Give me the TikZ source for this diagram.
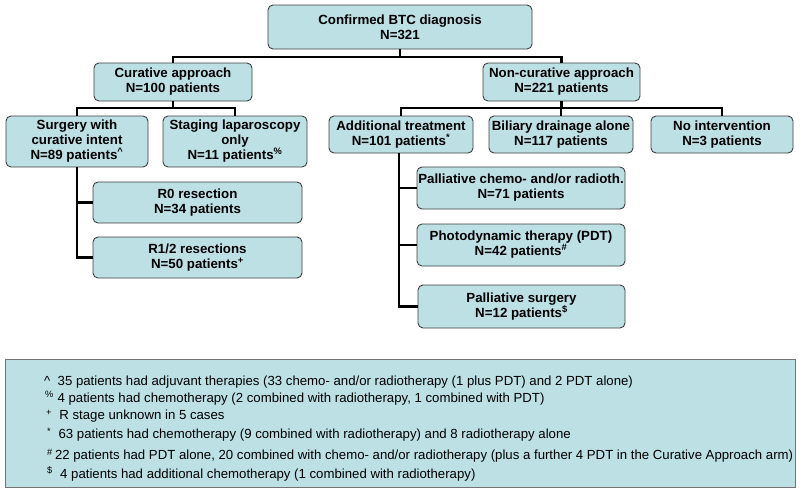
\documentclass[tikz,border=0pt]{standalone}
\usepackage{fontspec}
\setmainfont{Liberation Sans}
\begin{document}
\begin{tikzpicture}[x=1pt,y=-1pt,
  bx/.style={draw=black!75, line width=0.9pt, fill=boxfill, rounded corners=5pt,
    align=center, inner sep=0pt, font=\fontsize{13.3}{15}\selectfont\bfseries},
  conn/.style={draw=black, line width=2.8pt},
  fn/.style={anchor=west, inner sep=0pt, font=\fontsize{13.2}{15}\selectfont}]
\definecolor{boxfill}{RGB}{188,224,228}
\useasboundingbox (0,0) rectangle (800,493);
\fill[white] (0,0) rectangle (800,493);
% boxes
\node[bx, minimum width=264pt, minimum height=44pt] (top) at (400,27) {Confirmed BTC diagnosis\\N=321};
\node[bx, minimum width=158pt, minimum height=38pt] (cur) at (173,82) {Curative approach\\N=100 patients};
\node[bx, minimum width=157pt, minimum height=38pt] (non) at (561.5,82) {Non-curative approach\\N=221 patients};
\node[bx, minimum width=142pt, minimum height=51pt] (surg) at (77,141.5) {Surgery with\\curative intent\\N=89 patients\textsuperscript{\textasciicircum}};
\node[bx, minimum width=144pt, minimum height=51pt] (stag) at (235,141.5) {Staging laparoscopy\\only\\N=11 patients\textsuperscript{\%}};
\node[bx, minimum width=144pt, minimum height=37pt] (add) at (401,134.5) {Additional treatment\\N=101 patients\textsuperscript{*}};
\node[bx, minimum width=144pt, minimum height=37pt] (bil) at (561,134.5) {Biliary drainage alone\\N=117 patients};
\node[bx, minimum width=142pt, minimum height=37pt] (noint) at (722,134.5) {No intervention\\N=3 patients};
\node[bx, minimum width=209pt, minimum height=41pt] (r0) at (197.5,202.5) {R0 resection\\N=34 patients};
\node[bx, minimum width=209pt, minimum height=41pt] (r12) at (197.5,257.5) {R1/2 resections\\N=50 patients\textsuperscript{+}};
\node[bx, minimum width=208pt, minimum height=42pt] (pc) at (521,188) {Palliative chemo- and/or radioth.\\N=71 patients};
\node[bx, minimum width=208pt, minimum height=42pt] (pdt) at (521,245) {Photodynamic therapy (PDT)\\N=42 patients\textsuperscript{\#}};
\node[bx, minimum width=207pt, minimum height=43pt] (ps) at (521.5,306.5) {Palliative surgery\\N=12 patients\textsuperscript{\$}};
% connectors
\coordinate (j1) at (400,57);
\coordinate (j2) at (173,108);
\coordinate (j3) at (561.5,108);
\draw[conn] (top.south) -- (j1);
\draw[conn] (cur.north) |- (j1) -| (non.north);
\draw[conn] (cur.south) -- (j2);
\draw[conn] (surg.north) |- (j2) -| (stag.north);
\draw[conn] (non.south) -- (j3);
\draw[conn] (add.north) |- (j3) -| (noint.north);
\draw[conn] (bil.north) -- (bil.north |- j3);
\draw[conn] (surg.south) |- (r12.west);
\draw[conn] (surg.south |- r0.west) -- (r0.west);
\draw[conn] ([xshift=-2pt]add.south) |- (ps.west);
\draw[conn] ([xshift=-2pt]add.south |- pc.west) -- (pc.west);
\draw[conn] ([xshift=-2pt]add.south |- pdt.west) -- (pdt.west);
% footnote box
\node[draw=black!55, line width=1pt, fill=boxfill, minimum width=790pt, minimum height=128pt, inner sep=0pt] (foot) at (400,423) {};
\node[fn] (f1) at (44,382) {\textasciicircum\ \ 35 patients had adjuvant therapies (33 chemo- and/or radiotherapy (1 plus PDT) and 2 PDT alone)};
\node[fn] (f2) at (45,398) {\textsuperscript{\%}\ 4 patients had chemotherapy (2 combined with radiotherapy, 1 combined with PDT)};
\node[fn] (f3) at (46,416) {\textsuperscript{+}\ \ R stage unknown in 5 cases};
\node[fn] (f4) at (47,435) {\textsuperscript{*}\ \ 63 patients had chemotherapy (9 combined with radiotherapy) and 8 radiotherapy alone};
\node[fn] (f5) at (47,456) {\textsuperscript{\#}\,22 patients had PDT alone, 20 combined with chemo- and/or radiotherapy (plus a further 4 PDT in the Curative Approach arm)};
\node[fn] (f6) at (47,474) {\textsuperscript{\$}\ \ 4 patients had additional chemotherapy (1 combined with radiotherapy)};
\end{tikzpicture}
\end{document}
